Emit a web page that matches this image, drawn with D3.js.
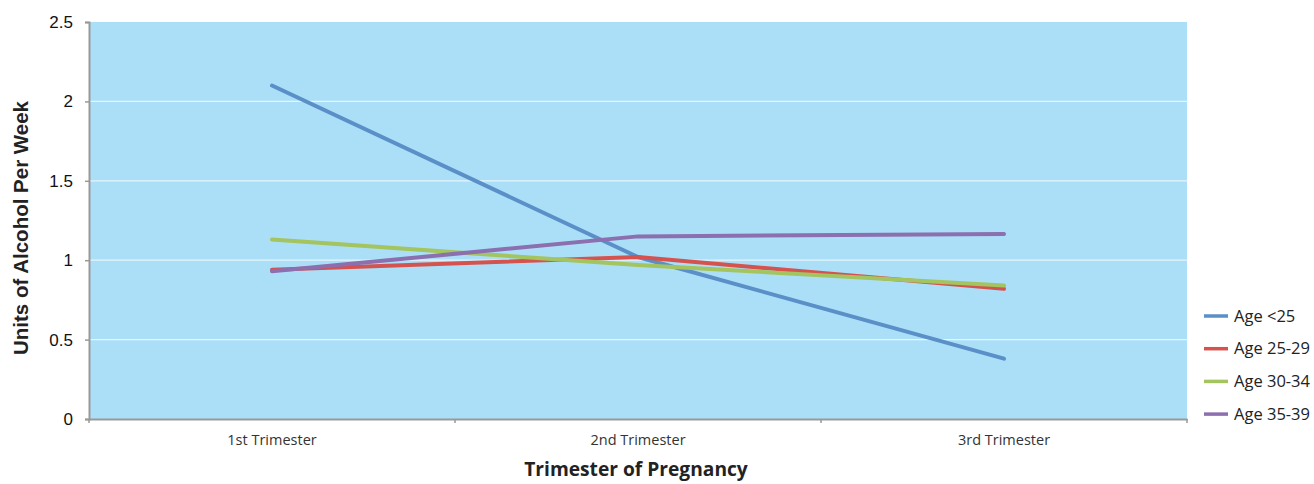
<!DOCTYPE html>
<html><head><meta charset="utf-8">
<script src="https://cdn.jsdelivr.net/npm/d3@7"></script>
<style>body{margin:0;background:#fff}svg{display:block}</style>
</head><body>
<svg id="c" width="1314" height="484"></svg>
<script>
const categories = ["1st Trimester", "2nd Trimester", "3rd Trimester"];
const seriesNames = ["Age <25", "Age 25-29", "Age 30-34", "Age 35-39"];
const ageUnder25 = [2.10, 1.02, 0.38];
const age25to29 = [0.94, 1.02, 0.82];
const age30to34 = [1.13, 0.97, 0.84];
const age35to39 = [0.93, 1.15, 1.165];
const yTicks = [0, 0.5, 1, 1.5, 2, 2.5];
const colors = ["#5a8fc8", "#d4534f", "#a3c45e", "#8b6fae"];
const seriesValues = [ageUnder25, age25to29, age30to34, age35to39];

const svg = d3.select("#c");
const L = 89, R = 1187, T = 22, B = 419;
const x = d3.scaleBand().domain(categories).range([L, R]);
const y = d3.scaleLinear().domain([0, 2.5]).range([B, T]);

svg.append("rect").attr("x", L).attr("y", T).attr("width", R - L).attr("height", B - T).attr("fill", "#abdff8");

svg.append("g").selectAll("line").data(yTicks.filter(d => d > 0 && d < 2.5)).join("line")
  .attr("x1", L).attr("x2", R).attr("y1", d => y(d)).attr("y2", d => y(d))
  .attr("stroke", "#e4f5fd").attr("stroke-width", 1.2);

// y axis
const ya = svg.append("g").attr("transform", `translate(${L},0)`)
  .call(d3.axisLeft(y).tickValues(yTicks).tickSize(4).tickPadding(12).tickFormat(d => String(d)));
ya.select(".domain").attr("stroke", "#999").attr("stroke-width", 2);
ya.selectAll(".tick line").attr("stroke", "#999").attr("stroke-width", 1.5);
ya.selectAll("text").attr("font-family", "Liberation Sans, Arial, sans-serif").attr("font-size", 17).attr("fill", "#111");

// x axis
const xa = svg.append("g").attr("transform", `translate(0,${B})`)
  .call(d3.axisBottom(x).tickSize(0).tickPadding(16));
xa.select(".domain").attr("stroke", "#999").attr("stroke-width", 2);
xa.selectAll("text").attr("font-family", "Open Sans, sans-serif").attr("font-size", 14.5).attr("fill", "#333");
// boundary ticks
const bounds = [L, ...categories.map(c => x(c) + x.bandwidth())];
svg.append("g").selectAll("line").data(bounds).join("line")
  .attr("x1", d => d).attr("x2", d => d).attr("y1", B).attr("y2", B + 4)
  .attr("stroke", "#999").attr("stroke-width", 1.5);

// lines
const line = d3.line().x((d, i) => x(categories[i]) + x.bandwidth() / 2).y(d => y(d));
svg.append("g").selectAll("path").data(seriesValues).join("path")
  .attr("d", d => line(d)).attr("fill", "none")
  .attr("stroke", (d, i) => colors[i]).attr("stroke-width", 4).attr("stroke-linecap", "round");

// titles
svg.append("text").attr("transform", "translate(28,228) rotate(-90)").attr("text-anchor", "middle")
  .attr("font-family", "Liberation Sans, Arial, sans-serif").attr("font-weight", "bold").attr("font-size", 20.5)
  .attr("fill", "#222").text("Units of Alcohol Per Week");
svg.append("text").attr("x", 636).attr("y", 476).attr("text-anchor", "middle")
  .attr("font-family", "Open Sans, sans-serif").attr("font-weight", "bold").attr("font-size", 19.2)
  .attr("fill", "#222").text("Trimester of Pregnancy");

// legend
const lg = svg.append("g").selectAll("g").data(seriesNames).join("g")
  .attr("transform", (d, i) => `translate(1204,${316 + i * 32.7})`);
lg.append("line").attr("x1", 0).attr("x2", 24).attr("stroke", (d, i) => colors[i]).attr("stroke-width", 3.5);
lg.append("text").attr("x", 30).attr("dy", "0.35em").attr("font-family", "Open Sans, sans-serif")
  .attr("font-size", 16.5).attr("fill", "#222").text(d => d);
</script>
</body></html>
